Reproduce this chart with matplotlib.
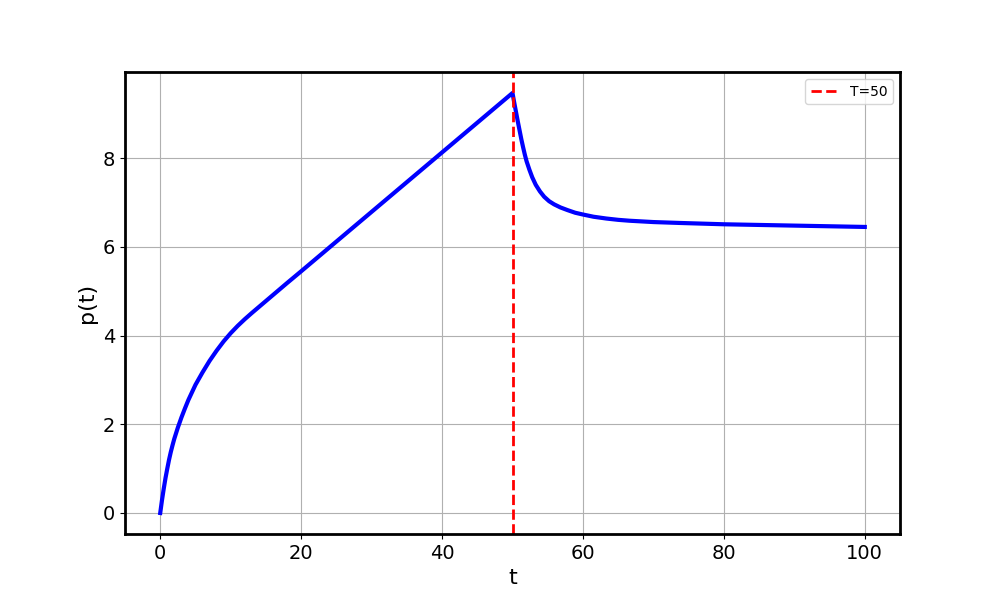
import matplotlib
matplotlib.use("Agg")
import matplotlib.pyplot as plt

# valeurs
t = [0, 0.25, 0.5, 0.75, 1.0, 1.25, 1.5, 1.75, 2.0, 2.5, 3.0, 3.5, 4.0, 5.0, 6.0, 7.0,
     8.0, 9.0, 10.0, 11.0, 12.0, 13.0, 14.0, 16.0, 18.0, 20.0, 25.0, 30.0, 35.0, 40.0,
     45.0, 50.0,
     50.25, 50.5, 50.75, 51.0, 51.25, 51.5, 51.75, 52.0, 52.4, 52.8, 53.3, 53.9, 54.5,
     55.2, 55.9, 56.8, 57.8, 58.9, 60.0, 61.5, 63.3, 65.0, 66.6, 70.0, 73.7, 80.0,
     90.0, 100.0]
p = [0, 0.29, 0.55, 0.79, 1.0, 1.2, 1.375, 1.53, 1.675, 1.925, 2.15, 2.355, 2.55, 2.89, 3.17, 3.43,
     3.66, 3.87, 4.055, 4.22, 4.37, 4.51, 4.645, 4.915, 5.185, 5.45, 6.12, 6.79, 7.46, 8.13,
     8.80, 9.47,
     9.25, 9.04, 8.83, 8.63, 8.43, 8.25, 8.08, 7.93, 7.74, 7.57, 7.40, 7.25, 7.13,
     7.03, 6.96, 6.89, 6.83, 6.77, 6.73, 6.68, 6.64, 6.61, 6.59, 6.56, 6.54, 6.51,
     6.48, 6.45]
T = 50

plt.figure(figsize=(10, 6), dpi=100)
plt.plot(t, p, color='blue', linewidth=3)
plt.axvline(T, color='red', linestyle='--', linewidth=2, label='T=50')
plt.xlabel('t', fontsize=16)
plt.ylabel('p(t)', fontsize=16)
plt.xticks(fontsize=14)
plt.yticks(fontsize=14)
plt.grid(True)
ax = plt.gca()
for s in ax.spines.values():
    s.set_linewidth(2)
plt.legend(loc='upper right')
plt.savefig('out.png')
